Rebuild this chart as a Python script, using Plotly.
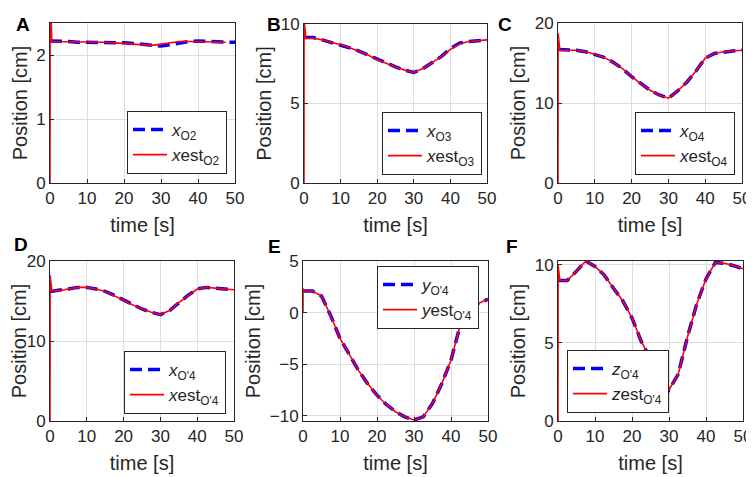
import plotly.graph_objects as go

# the page adds an 8 px body margin, so the figure is drawn 8 px smaller
OFF = 8
W, H = 754 - OFF, 477 - OFF

# time grid of the reference signals [s]
t = [0, 2.5, 5, 7.5, 10, 12.5, 15, 17.5, 20, 22.5, 25, 27.5, 30,
     32.5, 35, 37.5, 40, 42.5, 45, 47.5, 50]
# estimator output starts at zero, overshoots, then follows the signal
t_est = [0, 0.02, 0.5] + t[1:]

x_O2 = [2.22, 2.22, 2.21, 2.20, 2.20, 2.20, 2.20, 2.20, 2.19, 2.18, 2.17,
        2.16, 2.14, 2.16, 2.19, 2.21, 2.22, 2.21, 2.21, 2.20, 2.20]
xest_O2 = [0, 3.0, 2.21, 2.21, 2.20, 2.20, 2.20, 2.20, 2.20, 2.19, 2.18,
           2.17, 2.16, 2.15, 2.17, 2.19, 2.21, 2.21, 2.21, 2.21, 2.20, 2.20]

x_O3 = [9.15, 9.15, 9.0, 8.85, 8.7, 8.5, 8.3, 8.05, 7.75, 7.5, 7.3,
        7.1, 6.95, 7.2, 7.55, 7.95, 8.45, 8.8, 8.9, 8.95, 9.0]
xest_O3 = [0, 10.3, 9.1, 9.1, 9.0, 8.85, 8.7, 8.5, 8.3, 8.05, 7.75, 7.5,
           7.3, 7.1, 6.95, 7.2, 7.55, 7.95, 8.4, 8.75, 8.9, 8.95, 9.0]

x_O4 = [16.7, 16.7, 16.6, 16.4, 16.1, 15.7, 15.1, 14.3, 13.3, 12.4, 11.6,
        11.0, 10.6, 11.5, 12.6, 14.0, 15.6, 16.2, 16.4, 16.5, 16.6]
xest_O4 = [0, 18.7, 16.6, 16.6, 16.6, 16.4, 16.1, 15.7, 15.1, 14.3, 13.3,
           12.4, 11.6, 11.0, 10.6, 11.5, 12.6, 14.0, 15.6, 16.2, 16.4, 16.5,
           16.6]

x_O4p = [16.2, 16.3, 16.5, 16.7, 16.7, 16.5, 16.2, 15.7, 15.1, 14.5, 14.0,
         13.6, 13.3, 13.8, 14.8, 15.7, 16.5, 16.7, 16.6, 16.5, 16.4]
xest_O4p = [0, 18.2, 16.3, 16.3, 16.5, 16.7, 16.7, 16.5, 16.2, 15.7, 15.1,
            14.5, 14.0, 13.6, 13.3, 13.8, 14.8, 15.7, 16.5, 16.7, 16.6, 16.5,
            16.4]

y_O4p = [2.1, 2.1, 1.6, -0.3, -2.5, -4.1, -5.6, -6.9, -8.0, -8.9, -9.6,
         -10.1, -10.4, -10.1, -8.8, -6.9, -4.6, -1.2, 0.3, 0.9, 1.3]
yest_O4p = [0, 2.3, 2.1, 2.1, 1.6, -0.3, -2.5, -4.1, -5.6, -6.9, -8.0,
            -8.9, -9.6, -10.1, -10.4, -10.1, -8.8, -6.9, -4.6, -1.2, 0.3,
            0.9, 1.3]

z_O4p = [9.0, 9.0, 9.6, 10.25, 9.9, 9.35, 8.5, 7.7, 6.6, 5.1, 4.0,
         3.0, 2.0, 3.0, 5.4, 7.5, 9.1, 10.15, 10.1, 9.95, 9.75]
zest_O4p = [0, 10.0, 9.0, 9.0, 9.6, 10.25, 9.9, 9.35, 8.5, 7.7, 6.6, 5.1,
            4.0, 3.0, 2.0, 3.0, 5.4, 7.5, 9.1, 10.15, 10.1, 9.95, 9.75]

panels = [
    # letter, true, est, true name, est name, y range, y ticks, legend corner (px)
    ("A", x_O2, xest_O2, "<i>x</i><sub>O2</sub>", "<i>x</i>est<sub>O2</sub>",
     [0, 2.5], [0, 1, 2], (127, 174)),
    ("B", x_O3, xest_O3, "<i>x</i><sub>O3</sub>", "<i>x</i>est<sub>O3</sub>",
     [0, 10], [0, 5, 10], (382, 175)),
    ("C", x_O4, xest_O4, "<i>x</i><sub>O4</sub>", "<i>x</i>est<sub>O4</sub>",
     [0, 20], [0, 10, 20], (635, 175)),
    ("D", x_O4p, xest_O4p, "<i>x</i><sub>O'4</sub>", "<i>x</i>est<sub>O'4</sub>",
     [0, 20], [0, 10, 20], (124, 414)),
    ("E", y_O4p, yest_O4p, "<i>y</i><sub>O'4</sub>", "<i>y</i>est<sub>O'4</sub>",
     [-10.5, 5], [-10, -5, 0, 5], (377, 329)),
    ("F", z_O4p, zest_O4p, "<i>z</i><sub>O'4</sub>", "<i>z</i>est<sub>O'4</sub>",
     [0, 10.25], [0, 5, 10], (567, 413)),
]

# plot boxes in page pixels: left, right, top, bottom
boxes = [(50, 235, 23, 183), (304, 487, 24, 183), (558, 742, 23, 183),
         (50, 234, 261, 421), (303, 488, 261, 421), (558, 743, 261, 421)]
letter_pos = [(14, 12), (274, 12), (514, 12), (12, 244), (274, 247), (520, 247)]


def px(x):
    return (x - OFF) / W


def py(y):
    return 1 - (y - OFF) / H


font = "Liberation Sans, Arial, sans-serif"
fig = go.Figure()
layout = dict(width=W, height=H, margin=dict(l=0, r=0, t=0, b=0),
              plot_bgcolor="white", paper_bgcolor="white",
              font=dict(family=font, size=17, color="#262626"),
              annotations=[])

axis_style = dict(showline=True, mirror=True, linecolor="#262626", linewidth=1,
                  ticks="inside", ticklen=4, tickcolor="#262626",
                  showgrid=True, gridcolor="#dedede", zeroline=False,
                  automargin=False, tickfont=dict(size=17))

for i, (p, box) in enumerate(zip(panels, boxes)):
    letter, yt, ye, n1, n2, yr, yticks, lg = p
    l, r, tp, b = box
    k = "" if i == 0 else str(i + 1)
    leg = "legend" + k
    fig.add_trace(go.Scatter(x=t, y=yt, mode="lines", name=n1, legend=leg,
                             line=dict(color="#0000ff", width=3.5, dash="12px,6px"),
                             xaxis="x" + k, yaxis="y" + k))
    fig.add_trace(go.Scatter(x=t_est, y=ye, mode="lines", name=n2, legend=leg,
                             line=dict(color="#ff0000", width=1.6),
                             xaxis="x" + k, yaxis="y" + k))
    layout["xaxis" + k] = dict(axis_style, domain=[px(l), px(r)], range=[0, 50],
                               tickvals=[0, 10, 20, 30, 40, 50], anchor="y" + k,
                               title=dict(text="time [s]", standoff=10))
    layout["yaxis" + k] = dict(axis_style, domain=[py(b), py(tp)],
                               range=yr, tickvals=yticks, anchor="x" + k,
                               title=dict(text="Position [cm]", standoff=3))
    layout[leg] = dict(x=px(lg[0]), y=py(lg[1]), xanchor="left",
                       yanchor="bottom", bgcolor="white", bordercolor="#262626",
                       borderwidth=1, font=dict(size=17, color="#262626"),
                       itemwidth=34, tracegroupgap=0)
    layout["annotations"].append(dict(text="<b>%s</b>" % letter,
                                      x=px(letter_pos[i][0]), y=py(letter_pos[i][1]),
                                      xref="paper", yref="paper", showarrow=False,
                                      font=dict(size=19, color="black")))

fig.update_layout(**layout)
fig.write_html("out.html")
